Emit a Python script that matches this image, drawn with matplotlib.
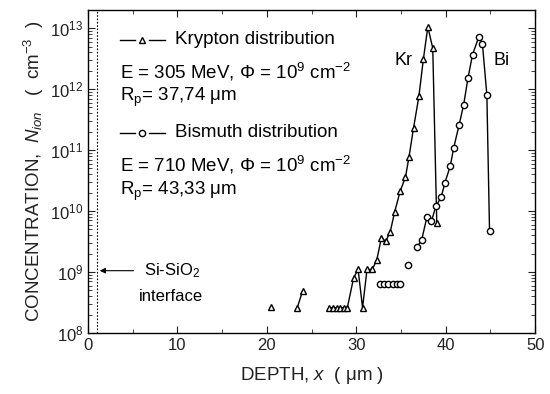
import numpy as np
import matplotlib
matplotlib.use("Agg")
import matplotlib.pyplot as plt
from matplotlib.ticker import LogLocator, MultipleLocator, NullFormatter

plt.rcParams["font.family"] = ["Liberation Sans", "DejaVu Sans"]
plt.rcParams["mathtext.fontset"] = "custom"
plt.rcParams["mathtext.rm"] = "Liberation Sans"
plt.rcParams["mathtext.it"] = "Liberation Sans:italic"
plt.rcParams["mathtext.default"] = "regular"

# Krypton profile (nan = below detection, gap in the curve)
kr_depth = [20.5, 21.5, 23.4, 24.0, 25.0, 27.0, 27.4, 27.8, 28.2, 28.6, 29.0,
            29.7, 30.2, 30.7, 31.2, 31.8, 32.3, 32.8, 33.3, 33.8, 34.3, 34.9,
            35.5, 35.9, 36.4, 37.0, 37.5, 38.0, 38.55, 39.0]
kr_conc = [2.7e8, np.nan, 2.6e8, 4.9e8, np.nan, 2.6e8, 2.6e8, 2.6e8, 2.6e8, 2.6e8, 2.6e8,
           8.0e8, 1.1e9, 2.6e8, 1.1e9, 1.1e9, 1.6e9, 3.6e9, 3.2e9, 4.6e9, 9.8e9, 2.1e10,
           3.6e10, 7.8e10, 2.3e11, 7.6e11, 3.1e12, 1.05e13, 4.7e12, 6.3e9]

# Bismuth profile
bi_depth = [32.7, 33.15, 33.6, 34.05, 34.5, 34.9, 35.3, 35.8, 36.3, 36.8, 37.3,
            37.9, 38.4, 38.9, 39.5, 39.9, 40.5, 40.9, 41.5, 42.0, 42.5, 43.0,
            43.7, 44.1, 44.6, 44.9]
bi_conc = [6.4e8, 6.4e8, 6.4e8, 6.4e8, 6.4e8, 6.4e8, np.nan, 1.3e9, np.nan, 2.6e9, 3.3e9,
           8.0e9, 6.8e9, 1.2e10, 1.7e10, 2.9e10, 5.4e10, 1.1e11, 2.6e11, 5.5e11, 1.55e12, 3.7e12,
           7.2e12, 5.6e12, 8.1e11, 4.7e9]

interface_depth = 1.0

fig = plt.figure(figsize=(5.5, 3.94), dpi=100)
ax = fig.add_axes([0.16, 0.155, 0.813, 0.82])

ax.plot(kr_depth, kr_conc, color="black", lw=1.0, marker="^", ms=5,
        mfc="white", mec="black", mew=1.0)
ax.plot(bi_depth, bi_conc, color="black", lw=1.0, marker="o", ms=4.5,
        mfc="white", mec="black", mew=1.0)

ax.axvline(interface_depth, color="black", lw=0.8, ls=(0, (1.5, 1.5)))

ax.set_yscale("log")
ax.set_xlim(0, 50)
ax.set_ylim(1e8, 2e13)
ax.xaxis.set_major_locator(MultipleLocator(10))
ax.xaxis.set_minor_locator(MultipleLocator(5))
ax.yaxis.set_major_locator(LogLocator(base=10, numticks=10))
ax.yaxis.set_minor_locator(LogLocator(base=10, subs=np.arange(2, 10), numticks=20))
ax.yaxis.set_minor_formatter(NullFormatter())
ax.tick_params(which="both", direction="in", top=True, right=True, labelsize=12,
               colors="#222222")
ax.tick_params(which="major", length=5)
ax.tick_params(which="minor", length=3)
for s in ax.spines.values():
    s.set_linewidth(1.0)

ax.set_xlabel(r"DEPTH, $\mathit{x}$  ( μm )", fontsize=13.5, color="#222222", labelpad=9)
ax.set_ylabel(r"CONCENTRATION,  $\mathit{N}_{\mathit{ion}}$   (  cm$^{-3}$  )",
              fontsize=13.5, color="#222222", labelpad=3)

# legend block drawn by hand
tr = ax.transAxes
for yl, mk, ms in [(0.907, "^", 5), (0.619, "o", 4.5)]:
    ax.plot([0.072, 0.106], [yl, yl], transform=tr, color="black", lw=1.0)
    ax.plot([0.136, 0.172], [yl, yl], transform=tr, color="black", lw=1.0)
    ax.plot([0.121], [yl], transform=tr, marker=mk, ms=ms, mfc="white", mec="black")

fs = 13.5
ax.text(0.195, 0.907, "Krypton distribution", transform=tr, fontsize=fs, va="center")
ax.text(0.072, 0.808, "E = 305 MeV, Φ = 10$^9$ cm$^{-2}$", transform=tr, fontsize=fs, va="center")
ax.text(0.072, 0.728, "R$_p$= 37,74 μm", transform=tr, fontsize=fs, va="center")
ax.text(0.195, 0.619, "Bismuth distribution", transform=tr, fontsize=fs, va="center")
ax.text(0.072, 0.520, "E = 710 MeV, Φ = 10$^9$ cm$^{-2}$", transform=tr, fontsize=fs, va="center")
ax.text(0.072, 0.437, "R$_p$= 43,33 μm", transform=tr, fontsize=fs, va="center")

ax.text(34.3, 2.9e12, "Kr", fontsize=13, va="center")
ax.text(45.3, 2.9e12, "Bi", fontsize=13, va="center")

ax.annotate("", xy=(interface_depth, 1.05e9), xytext=(5.4, 1.05e9),
            arrowprops=dict(arrowstyle="-|>", color="black", lw=0.8,
                            mutation_scale=8))
ax.text(6.3, 1.05e9, "Si-SiO$_2$", fontsize=12, va="center")
ax.text(9.3, 3.9e8, "interface", fontsize=12, va="center", ha="center")

fig.savefig("out.png", dpi=100)
